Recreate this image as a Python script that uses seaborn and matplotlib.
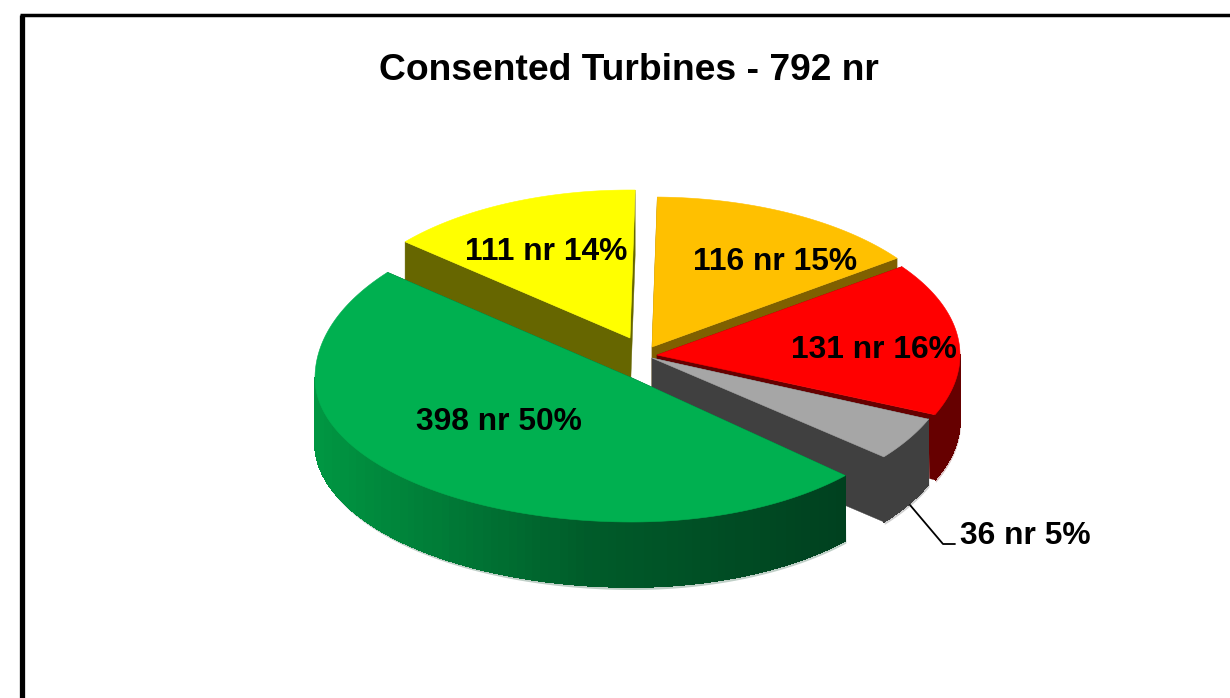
"""
Consented turbines, exploded pie with a drawn 3D look.
"""
import numpy as np
import seaborn as sns
import matplotlib.pyplot as plt
from matplotlib.patches import Polygon

TITLE = "Consented Turbines - 792 nr"

# slice order runs clockwise from twelve o'clock
counts = [116, 131, 36, 398, 111]
percents = [15, 16, 5, 50, 14]

top_colors = ["#FFC000", "#FF0000", "#A6A6A6", "#00B050", "#FFFF00"]
wall_colors = [
    ["#7F6000"],
    ["#660000"],
    ["#404040"],
    ["#009642", "#005C2A", "#00401F"],
    ["#666600"],
]

# layout of each slice, in pixels
centre_x = [652, 657, 652, 632, 630]
centre_y = [347, 355, 358, 378, 338]
radius_left = [304, 303, 301, 317, 296]
radius_right = [304, 303, 301, 290, 296]
radius_front = [150, 150, 155, 144, 148]
radius_back = [150, 150, 155, 166, 148]
start_nudge = [1, 1.2, 1, 4, 1]
end_nudge = [1, 1.2, 1, 0, 1]
draw_order = [4, 0, 1, 2, 3]
DEPTH = 65

label_x = [775, 874, 1025, 499, 546]
label_y = [262, 350, 536, 422, 252]

sns.set_theme(style="white")
plt.rcParams["font.family"] = ["Liberation Sans", "DejaVu Sans"]


def rim_points(i, angles):
    """Points on the top edge of slice i for angles in degrees."""
    rad = np.radians(angles)
    sin_a, cos_a = np.sin(rad), np.cos(rad)
    xs = centre_x[i] + np.where(sin_a > 0, radius_right[i], radius_left[i]) * sin_a
    ys = centre_y[i] - np.where(cos_a > 0, radius_back[i], radius_front[i]) * cos_a
    return xs, ys


def draw_slice(ax, i, start, end, layer):
    angles = np.linspace(start, end, 240)
    xs, ys = rim_points(i, angles)
    apex = (centre_x[i], centre_y[i])
    palette = sns.blend_palette(wall_colors[i] * (2 if len(wall_colors[i]) == 1 else 1), 64)
    fringe = sns.blend_palette(["white", wall_colors[i][-1]], 5)[1]

    # pale rough edge under the front of the rim
    front = (angles > 90) & (angles < 270)
    if front.any():
        fx, fy = xs[front], ys[front]
        pts = np.r_[np.c_[fx, fy], np.c_[fx[::-1] + 1, fy[::-1] + DEPTH + 3]]
        ax.add_patch(Polygon(pts, closed=True, fc=fringe, ec="none", zorder=layer * 3 + 1))

    # the two cut faces
    for x_end, y_end in [(xs[0], ys[0]), (xs[-1], ys[-1])]:
        pts = [apex, (x_end, y_end), (x_end, y_end + DEPTH), (apex[0], apex[1] + DEPTH)]
        color = palette[-1] if len(wall_colors[i]) > 1 else wall_colors[i][0]
        ax.add_patch(Polygon(pts, closed=True, fc=color, ec=color, lw=0.3, zorder=layer * 3 + 2))

    # rim wall, split in strips so the shading can follow x
    left, right = xs.min(), xs.max()
    for k in range(len(angles) - 1):
        if not (front[k] or front[k + 1]):
            continue
        pos = (xs[k] - left) / max(right - left, 1)
        color = palette[int(np.clip(pos, 0, 1) * 63)]
        pts = [(xs[k], ys[k]), (xs[k + 1], ys[k + 1]),
               (xs[k + 1], ys[k + 1] + DEPTH), (xs[k], ys[k] + DEPTH)]
        ax.add_patch(Polygon(pts, closed=True, fc=color, ec=color, lw=0.6, antialiased=False,
                             zorder=layer * 3 + 2))

    # top face
    pts = np.r_[[apex], np.c_[xs, ys]]
    ax.add_patch(Polygon(pts, closed=True, fc=top_colors[i], ec=top_colors[i],
                         lw=0.4, zorder=layer * 3 + 3))


fig = plt.figure(figsize=(12.3, 6.98), dpi=100)
ax = fig.add_axes([0, 0, 1, 1])
ax.set_xlim(0, 1230)
ax.set_ylim(698, 0)
ax.axis("off")

# chart frame, it runs off the right and bottom of the picture
ax.plot([21.5, 21.5], [698, 14.5], color="black", lw=3.8, solid_capstyle="butt",
        solid_joinstyle="miter", zorder=40)
ax.plot([19.5, 1230], [14.5, 14.5], color="black", lw=2.5, solid_capstyle="butt", zorder=40)

edges = np.r_[0, np.cumsum(counts)] / np.sum(counts) * 360
for layer, i in enumerate(draw_order):
    draw_slice(ax, i, edges[i] + start_nudge[i], edges[i + 1] + end_nudge[i], layer)

# leader for the small slice
ax.plot([910, 943, 955], [505, 544, 544], color="black", lw=1.3, zorder=30)

for i in range(len(counts)):
    ax.text(label_x[i], label_y[i], f"{counts[i]} nr {percents[i]}%", ha="center", va="center",
            fontsize=22.9, fontweight="bold", color="black", zorder=35)

ax.text(629, 70, TITLE, ha="center", va="center", fontsize=26.8, fontweight="bold",
        color="black", zorder=35)

fig.savefig("out.png", dpi=100)
plt.close()
